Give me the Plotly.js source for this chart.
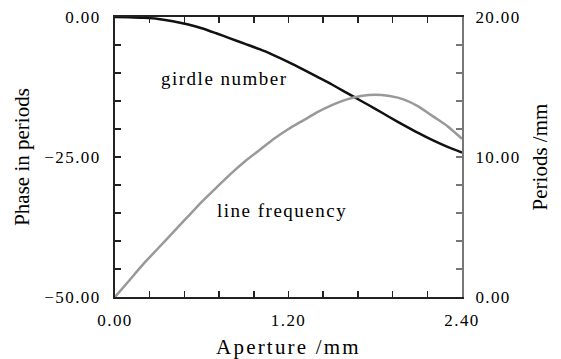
<!DOCTYPE html>
<html>
<head>
<meta charset="utf-8">
<script src="https://cdn.plot.ly/plotly-3.0.1.min.js"></script>
<style>
  html, body { margin: 0; padding: 0; background: #fff; }
  #chart { width: 561px; height: 359px; }
  .xtick text, .y2tick text, .ytick text { letter-spacing: 1.4px; }
  .annotation-text { letter-spacing: 1.5px; }
  .xtitle { letter-spacing: 2.2px; }
</style>
</head>
<body>
<div id="chart"></div>
<script>
// Aperture (mm)
const aperture = [0, 0.1, 0.2, 0.3, 0.4, 0.5, 0.6, 0.7, 0.8, 0.9, 1.0, 1.1, 1.2,
                  1.3, 1.4, 1.5, 1.6, 1.7, 1.8, 1.9, 2.0, 2.1, 2.2, 2.3, 2.4];
// girdle number: phase in periods (left axis)
const girdlePhase = [0, -0.05, -0.15, -0.35, -0.75, -1.3, -2.0, -2.9, -3.85, -4.8, -5.75, -6.85, -8.05,
                     -9.35, -10.7, -12.05, -13.5, -14.95, -16.4, -17.9, -19.35, -20.75, -22.05, -23.2, -24.2];
// line frequency: periods / mm (right axis)
const lineFreq = [0, 1.2, 2.4, 3.5, 4.6, 5.7, 6.8, 7.8, 8.8, 9.7, 10.5, 11.3, 12.0,
                  12.6, 13.2, 13.7, 14.1, 14.35, 14.45, 14.35, 14.1, 13.6, 12.9, 12.2, 11.3];

const xTitle = 'Aperture /mm';
const yTitle = 'Phase in periods';
const y2Title = 'Periods /mm';
const labelGirdle = 'girdle number';
const labelLine = 'line frequency';

const serif = '"Liberation Serif", "Times New Roman", serif';

const traces = [
  {
    x: aperture, y: girdlePhase, type: 'scatter', mode: 'lines',
    line: { color: '#111111', width: 2.5, shape: 'spline', smoothing: 0.6 }, yaxis: 'y', name: labelGirdle,
    showlegend: false, hoverinfo: 'skip'
  },
  {
    x: aperture, y: lineFreq, type: 'scatter', mode: 'lines',
    line: { color: '#999999', width: 2.5, shape: 'spline', smoothing: 0.6 }, yaxis: 'y2', name: labelLine,
    showlegend: false, hoverinfo: 'skip'
  }
];

const layout = {
  width: 561, height: 359,
  margin: { l: 115, r: 99, t: 17, b: 62 },
  paper_bgcolor: '#ffffff', plot_bgcolor: '#ffffff',
  font: { family: serif, size: 17, color: '#000' },
  showlegend: false,
  xaxis: {
    range: [0, 2.4], tick0: 0, dtick: 1.2, tickformat: '.2f',
    showgrid: false, zeroline: false,
    showline: true, linecolor: '#222', linewidth: 2, mirror: 'ticks',
    ticks: 'inside', ticklen: 6, tickwidth: 1.5, tickcolor: '#222',
    ticklabelstandoff: 7,
    tickfont: { family: serif, size: 17 },
    minor: { dtick: 0.24, tick0: 0, ticks: 'inside', ticklen: 6, tickwidth: 1.5, tickcolor: '#222', showgrid: false },
    title: { text: xTitle, font: { family: serif, size: 21 }, standoff: 10 }
  },
  yaxis: {
    range: [-50, 0], tick0: 0, dtick: 25, tickformat: '.2f',
    showgrid: false, zeroline: false,
    showline: true, linecolor: '#222', linewidth: 2,
    ticks: 'inside', ticklen: 6, tickwidth: 1.5, tickcolor: '#222',
    ticklabelstandoff: 9,
    tickfont: { family: serif, size: 17 },
    minor: { dtick: 5, tick0: 0, ticks: 'inside', ticklen: 6, tickwidth: 1.5, tickcolor: '#222', showgrid: false },
    title: { text: yTitle, font: { family: serif, size: 21 }, standoff: 9 }
  },
  yaxis2: {
    range: [0, 20], tick0: 0, dtick: 10, tickformat: '.2f',
    overlaying: 'y', side: 'right',
    showgrid: false, zeroline: false,
    showline: true, linecolor: '#777', linewidth: 2,
    ticks: 'inside', ticklen: 6, tickwidth: 1.5, tickcolor: '#777',
    ticklabelstandoff: 8,
    tickfont: { family: serif, size: 17 },
    minor: { dtick: 2, tick0: 0, ticks: 'inside', ticklen: 6, tickwidth: 1.5, tickcolor: '#777', showgrid: false },
    title: { text: y2Title, font: { family: serif, size: 21 }, standoff: 13 }
  },
  annotations: [
    { x: 0.76, y: -10.9, xref: 'x', yref: 'y', text: labelGirdle, showarrow: false,
      xanchor: 'center', yanchor: 'middle', font: { family: serif, size: 19, color: '#000' } },
    { x: 1.155, y: -34.6, xref: 'x', yref: 'y', text: labelLine, showarrow: false,
      xanchor: 'center', yanchor: 'middle', font: { family: serif, size: 19, color: '#000' } }
  ]
};

Plotly.newPlot('chart', traces, layout, { staticPlot: true, displayModeBar: false });
</script>
</body>
</html>
